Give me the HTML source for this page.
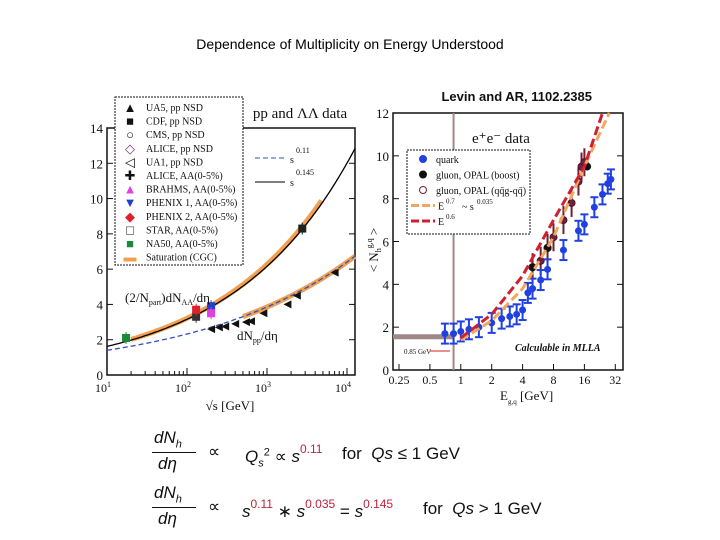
<!DOCTYPE html>
<html><head><meta charset="utf-8"><style>
body{margin:0;background:#fff;width:720px;height:540px;overflow:hidden;font-family:"Liberation Sans",sans-serif}
svg text{font-family:"Liberation Serif",serif}
.f{position:absolute;font-family:"Liberation Sans",sans-serif;font-size:17px;color:#111}
.sup{color:#c0223b;font-size:12px;vertical-align:9px}
</style></head><body>
<div style="position:absolute;left:0;width:700px;top:36px;text-align:center;font-size:14px;color:#000">Dependence of Multiplicity on Energy Understood</div>
<svg id="c" width="720" height="540" style="position:absolute;left:0;top:0" xmlns="http://www.w3.org/2000/svg"></svg>

<div class="f" style="left:150px;top:428px;width:440px">
 <span style="position:absolute;left:4px;top:0;font-style:italic">dN<sub style="font-size:11px">h</sub></span>
 <span style="position:absolute;left:2px;top:24px;width:44px;border-top:1px solid #111"></span>
 <span style="position:absolute;left:8px;top:26px;font-style:italic">dη</span>
 <span style="position:absolute;left:58px;top:14px">∝</span>
 <span style="position:absolute;left:95px;top:14px;font-style:italic">Q<sub style="font-size:11px">s</sub><sup style="font-size:11px;font-style:normal">2</sup> <span style="font-style:normal">∝</span> s<span class="sup" style="font-style:normal">0.11</span></span>
 <span style="position:absolute;left:192px;top:16px">for &nbsp;<i>Qs</i> ≤ 1 GeV</span>
</div>
<div class="f" style="left:150px;top:483px;width:440px">
 <span style="position:absolute;left:4px;top:0;font-style:italic">dN<sub style="font-size:11px">h</sub></span>
 <span style="position:absolute;left:2px;top:24px;width:44px;border-top:1px solid #111"></span>
 <span style="position:absolute;left:8px;top:26px;font-style:italic">dη</span>
 <span style="position:absolute;left:58px;top:14px">∝</span>
 <span style="position:absolute;left:92px;top:14px"><i>s</i><span class="sup">0.11</span> ∗ <i>s</i><span class="sup">0.035</span> = <i>s</i><span class="sup">0.145</span></span>
 <span style="position:absolute;left:273px;top:16px">for &nbsp;<i>Qs</i> &gt; 1 GeV</span>
</div>

<script>
// ---- left chart data ----
const ppE=[200,250,300,400,546,630,900,1800,2360,7000];
const ppN=[2.6,2.7,2.75,2.9,3.0,3.05,3.5,4.0,4.5,5.8];
const aaE=[17.3,130,130,200,200,2760];
const aaN=[2.1,3.3,3.7,3.9,3.5,8.3];
const aaColors=["#1a8a3a","#333","#e0202a","#2040d0","#e040e0","#222"];
const powSolid=0.145, powDash=0.11;
const leftYTicks=[0,2,4,6,8,10,12,14];
const leftXTicks=[1,2,3,4];
// ---- right chart data ----
const qE=[0.7,0.85,1,1.2,1.5,2,2.5,3,3.5,4,4.5,5,6,7,10,14,16,20,24,27,29];
const qN=[1.7,1.7,1.8,1.9,2.0,2.2,2.4,2.5,2.6,2.8,3.6,3.8,4.2,4.7,5.6,6.5,6.8,7.6,8.2,8.7,8.9];
const gE=[5,6,7,8,10,12,14,15,16];
const gN=[4.8,5.1,5.7,6.2,7.0,7.8,8.8,9.5,9.7];
const bE=[5,7,17];
const bN=[4.8,5.7,9.5];
const redE=[1,2,4,8,16,24];
const redN=[1.5,2.6,4.4,7.0,9.5,12];
const orE=[1,2,4,8,16,28];
const orN=[1.4,2.3,3.8,6.2,9.5,12];
const rightYTicks=[0,2,4,6,8,10,12];
const rightXTicks=[0.25,0.5,1,2,4,8,16,32];

const S=document.getElementById('c');const NS="http://www.w3.org/2000/svg";
function el(t,a,p){const e=document.createElementNS(NS,t);for(const k in a)e.setAttribute(k,a[k]);(p||S).appendChild(e);return e;}
function tx(x,y,s,size,anchor,p){const t=el('text',{x:x,y:y,'font-size':size,'text-anchor':anchor||'start',fill:'#111'},p);t.textContent=s;return t;}
function ts(t,s,attrs){const e=el('tspan',attrs||{},t);e.textContent=s;return e;}

// left axes
const LX=l=>107+(l-1)*80, LXv=v=>LX(Math.log10(v)), LY=v=>375-v*(247/14);
const gL=el('g',{});


el('rect',{x:107,y:128,width:248,height:247,fill:'none',stroke:'#111','stroke-width':1.5},gL);
leftYTicks.forEach(v=>{el('line',{x1:107,x2:113,y1:LY(v),y2:LY(v),stroke:'#111'},gL);el('line',{x1:349,x2:355,y1:LY(v),y2:LY(v),stroke:'#111'},gL);tx(103,LY(v)+5,String(v),13,'end',gL);});
leftXTicks.forEach(l=>{el('line',{x1:LX(l),x2:LX(l),y1:375,y2:368,stroke:'#111'},gL);const t=tx(LX(l)-4,392,'10',12,'middle',gL);const s=el('tspan',{dy:-5,'font-size':8},t);s.textContent=String(l);
 for(let k=2;k<10&&l<4;k++){const x=LX(l+Math.log10(k));el('line',{x1:x,x2:x,y1:375,y2:371,stroke:'#111'},gL);}});
tx(230,410,'√s   [GeV]',13,'middle',gL);
tx(300,118,'pp and ΛΛ data',15,'middle',gL);
function curve(a,p,l0,l1,attrs){let d='';for(let l=l0;l<=l1+1e-9;l+=0.02){const v=a*Math.pow(10,(l-1)*2*p);d+=(d?'L':'M')+LX(l).toFixed(1)+','+LY(v).toFixed(1);}return el('path',Object.assign({d:d,fill:'none'},attrs),gL);}
curve(1.65,powSolid,Math.log10(20),Math.log10(5000),{stroke:'#f0a050','stroke-width':5});
curve(1.4,powDash,2.7,4.1,{stroke:'#f0a050','stroke-width':5});
curve(1.62,powSolid,1,4.1,{stroke:'#000','stroke-width':1.3});
curve(1.4,powDash,1,4.1,{stroke:'#3050c0','stroke-width':1.3,'stroke-dasharray':'5,3'});
ppE.forEach((e,i)=>{const m=el('path',{d:`M${LXv(e)-4},${LY(ppN[i])} l8,-4 l0,8z`,fill:'#111'},gL);});
aaE.forEach((e,i)=>{const x=LXv(e),y=LY(aaN[i]);el('line',{x1:x,x2:x,y1:y-6,y2:y+6,stroke:aaColors[i]},gL);const m=el('rect',{x:x-4,y:y-4,width:8,height:8,fill:aaColors[i]},gL);});
const t1=tx(125,302,'(2/N',13,'start',gL);ts(t1,'part',{'font-size':8,dy:3});ts(t1,')dN',{dy:-3});ts(t1,'AA',{'font-size':8,dy:3});ts(t1,'/dη',{dy:-3});
const t2=tx(237,340,'dN',13,'start',gL);ts(t2,'pp',{'font-size':8,dy:3});ts(t2,'/dη',{dy:-3});
el('line',{x1:255,x2:285,y1:158,y2:158,stroke:'#3050c0','stroke-dasharray':'5,3'},gL);tx(290,163,'s',10,'start',gL);tx(296,153,'0.11',8,'start',gL);
el('line',{x1:255,x2:285,y1:182,y2:182,stroke:'#000'},gL);tx(290,186,'s',10,'start',gL);tx(296,175,'0.145',8,'start',gL);
// legend left
const lg=el('g',{});


el('rect',{x:115,y:97,width:128,height:168,fill:'#fff',stroke:'#111','stroke-dasharray':'2,1'},lg);
const ll=["UA5, pp NSD","CDF, pp NSD","CMS, pp NSD","ALICE, pp NSD","UA1, pp NSD","ALICE, AA(0-5%)","BRAHMS, AA(0-5%)","PHENIX 1, AA(0-5%)","PHENIX 2, AA(0-5%)","STAR, AA(0-5%)","NA50, AA(0-5%)","Saturation  (CGC)"];
const lc=["#111","#111","#111","#803080","#111","#111","#e040e0","#2040d0","#e0202a","#111","#1a8a3a","#f0a050"];
const lsym=["▲","■","○","◇","◁","✚","▲","▼","◆","□","■","▬"];
ll.forEach((s,i)=>{const y=107+i*13.6;const t=tx(130,y+5,lsym[i],13,'middle',lg);t.setAttribute('fill',lc[i]);tx(146,y+4,s,10,'start',lg);});

// right chart
const RX=e=>399+Math.log2(e/0.25)*30.9, RY=v=>370-v*(257/12);
const gR=el('g',{});


el('rect',{x:393,y:113,width:230,height:257,fill:'none',stroke:'#111','stroke-width':1.5},gR);
rightYTicks.forEach(v=>{el('line',{x1:393,x2:399,y1:RY(v),y2:RY(v),stroke:'#111'},gR);el('line',{x1:617,x2:623,y1:RY(v),y2:RY(v),stroke:'#111'},gR);tx(389,RY(v)+5,String(v),13,'end',gR);});
rightXTicks.forEach(e=>{el('line',{x1:RX(e),x2:RX(e),y1:370,y2:364,stroke:'#111'},gR);tx(RX(e),384,String(e),12,'middle',gR);});
const t3=tx(500,400,'E',13,'start',gR);ts(t3,'g,q',{'font-size':7,dy:4});ts(t3,' [GeV]',{dy:-4});
const yl=tx(0,0,'< N',13,'middle',gR);yl.setAttribute('transform','translate(378,250) rotate(-90)');ts(yl,'h',{'font-size':8,dy:3});ts(yl,'g,q',{'font-size':8,dy:-9});ts(yl,' >',{dy:6});
const lv=tx(592,101,'Levin and AR, 1102.2385',13,'end',gR);lv.setAttribute('style','font-family:"Liberation Sans",sans-serif;font-weight:bold');
tx(472,143,'e⁺e⁻ data',15,'start',gR);
el('line',{x1:RX(0.85),x2:RX(0.85),y1:113,y2:370,stroke:'#a08888','stroke-width':2},gR);
el('line',{x1:393,x2:RX(0.85),y1:RY(1.55),y2:RY(1.55),stroke:'#a08888','stroke-width':5},gR);
tx(404,354,'0.85 GeV',7,'start',gR);el('line',{x1:430,x2:450,y1:351,y2:351,stroke:'#d02020'},gR);
const cm=tx(515,351,'Calculable in MLLA',10,'start',gR);cm.setAttribute('font-style','italic');cm.setAttribute('font-weight','bold');
function pl(E,N,attrs){return el('path',Object.assign({d:E.map((e,i)=>(i?'L':'M')+RX(e).toFixed(1)+','+RY(N[i]).toFixed(1)).join(''),fill:'none'},attrs),gR);}
gE.forEach((e,i)=>{const x=RX(e),y=RY(gN[i]);el('line',{x1:x,x2:x,y1:y-14,y2:y+14,stroke:'#702030','stroke-width':2},gR);const m=el('circle',{cx:x,cy:y,r:3.5,fill:'#702040',stroke:'#501020'},gR);});
qE.forEach((e,i)=>{const x=RX(e),y=RY(qN[i]);el('line',{x1:x,x2:x,y1:y-10,y2:y+10,stroke:'#2040e0','stroke-width':2},gR);el('line',{x1:x-4,x2:x+4,y1:y-10,y2:y-10,stroke:'#2040e0','stroke-width':2},gR);el('line',{x1:x-4,x2:x+4,y1:y+10,y2:y+10,stroke:'#2040e0','stroke-width':2},gR);const m=el('circle',{cx:x,cy:y,r:3.5,fill:'#2040e0'},gR);});
bE.forEach((e,i)=>{const m=el('circle',{cx:RX(e),cy:RY(bN[i]),r:4,fill:'#111'},gR);});
pl(orE,orN,{stroke:'#f0a860','stroke-width':3,'stroke-dasharray':'9,4'});
pl(redE,redN,{stroke:'#d02030','stroke-width':3,'stroke-dasharray':'9,4'});
const rg=el('g',{});


el('rect',{x:407,y:150,width:123,height:84,fill:'#fff',stroke:'#111','stroke-dasharray':'2,1'},rg);
const rl=["quark","gluon, OPAL (boost)","gluon, OPAL (qq̄g-qq̄)","E^0.7","E^0.6"];
const rc=["#2040e0","#111","#702040"];
rl.forEach((s,i)=>{const y=159+i*15.5;if(i<3){el('circle',{cx:423,cy:y,r:3.5,fill:i==2?'#fff':rc[i],stroke:rc[i]},rg);tx(436,y+4,s,10,'start',rg);}else{el('line',{x1:411,x2:435,y1:y,y2:y,stroke:i==3?'#f0a860':'#d02030','stroke-width':3,'stroke-dasharray':'8,3'},rg);tx(438,y+4,'E',10,'start',rg);tx(446,y-2,i==3?'0.7':'0.6',7,'start',rg);}});
tx(462,210,'~ s',10,'start',rg);tx(477,204,'0.035',7,'start',rg);
</script>
</body></html>
